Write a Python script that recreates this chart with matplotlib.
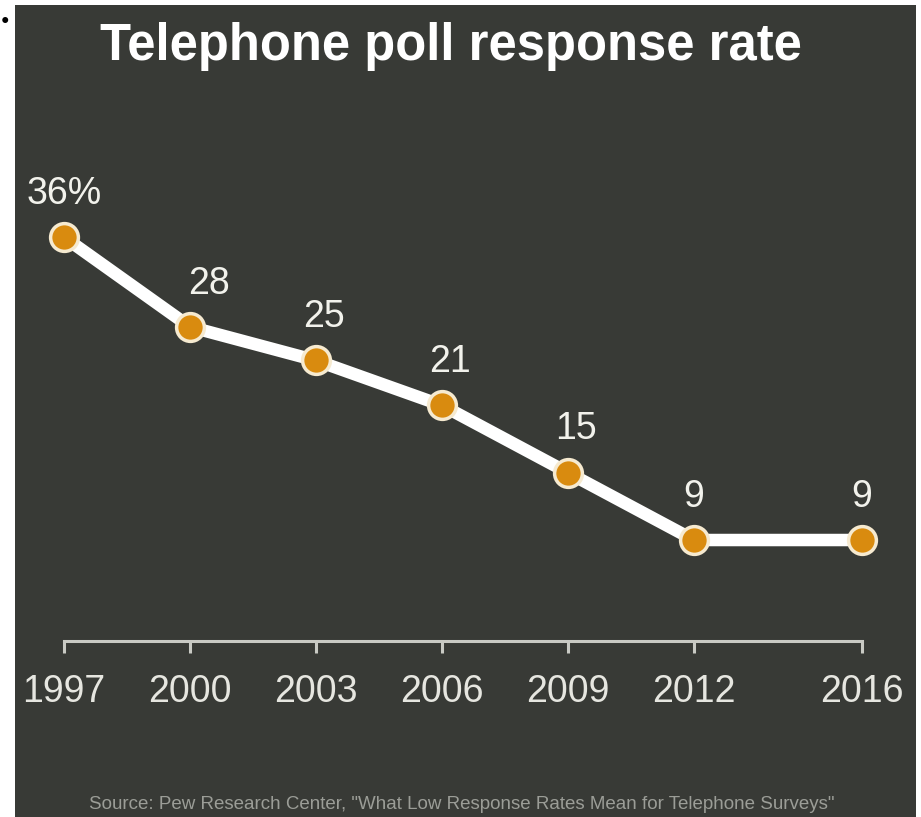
import matplotlib

matplotlib.use("Agg")
import matplotlib.pyplot as plt
from matplotlib.patches import Rectangle

# Tasa de respuesta de encuestas telefonicas (Pew Research Center)
years = [1997, 2000, 2003, 2006, 2009, 2012, 2016]
rates = [36, 28, 25, 21, 15, 9, 9]
labels = ["36%", "28", "25", "21", "15", "9", "9"]
tick_labels = ["1997", "2000", "2003", "2006", "2009", "2012", "2016"]

TITLE = "Telephone poll response rate"
SOURCE = 'Source: Pew Research Center, "What Low Response Rates Mean for Telephone Surveys"'

BG = "#383a36"
ORANGE = "#d98b0f"
EDGE = "#f6ead0"
FG = "#f2f2ec"

W, H = 921, 817
fig = plt.figure(figsize=(W / 100, H / 100), dpi=100, facecolor="white")
plt.rcParams["font.family"] = ["Liberation Sans", "DejaVu Sans"]

# panel oscuro de fondo (margen blanco a la izquierda y arriba)
fig.patches.append(Rectangle((15 / W, 0), (916 - 15) / W, (H - 5) / H,
                             transform=fig.transFigure, facecolor=BG,
                             edgecolor="none", zorder=-1))
fig.text(5 / W, 1 - 20 / H, "\u25cf", color="black", fontsize=10,
         ha="center", va="center")

# ejes colocados en pixeles: 42 px por anio, 0 en y=641
x0_px, x1_px = 15, 916
y_bot_px, y_top_px = 641, 100
px_year, px_unit = 42.0, 11.22
ax = fig.add_axes([x0_px / W, 1 - y_bot_px / H,
                   (x1_px - x0_px) / W, (y_bot_px - y_top_px) / H])
ax.set_zorder(2)
ax.patch.set_visible(False)
ax.set_xlim(1997 - (64 - x0_px) / px_year, 1997 + (x1_px - 64) / px_year)
ax.set_ylim(0, (y_bot_px - y_top_px) / px_unit)

ax.plot(years, rates, color="white", lw=9, solid_capstyle="round", zorder=3)
ax.plot(years, rates, ls="none", marker="o", ms=20, mfc=ORANGE,
        mec=EDGE, mew=2.5, zorder=4)

for i, (x, y, t) in enumerate(zip(years, rates, labels)):
    dx = 0 if i == 0 or i >= 5 else 6
    if i == 1:
        dx = 14
    ax.annotate(t, (x, y), xytext=(dx, 24), textcoords="offset points",
                ha="center", va="baseline", fontsize=27, color=FG)

for side in ("top", "right", "left"):
    ax.spines[side].set_visible(False)
ax.spines["bottom"].set_color("#c9cac4")
ax.spines["bottom"].set_linewidth(2.2)
ax.spines["bottom"].set_bounds(years[0], years[-1])
ax.set_yticks([])
ax.set_xticks(years)
ax.set_xticklabels(tick_labels)
ax.tick_params(axis="x", direction="out", length=8.5, width=2.2,
               color="#c9cac4", pad=15, labelsize=27, labelcolor="#e6e6e0")

fig.text(451 / W, 1 - 60 / H, TITLE, ha="center", va="baseline",
         fontsize=36.5, fontweight="bold", color="white")
fig.text(462 / W, 1 - 809 / H, SOURCE, ha="center", va="baseline",
         fontsize=13.5, color="#9b9d97")

fig.savefig("out.png", dpi=100, facecolor="white")
